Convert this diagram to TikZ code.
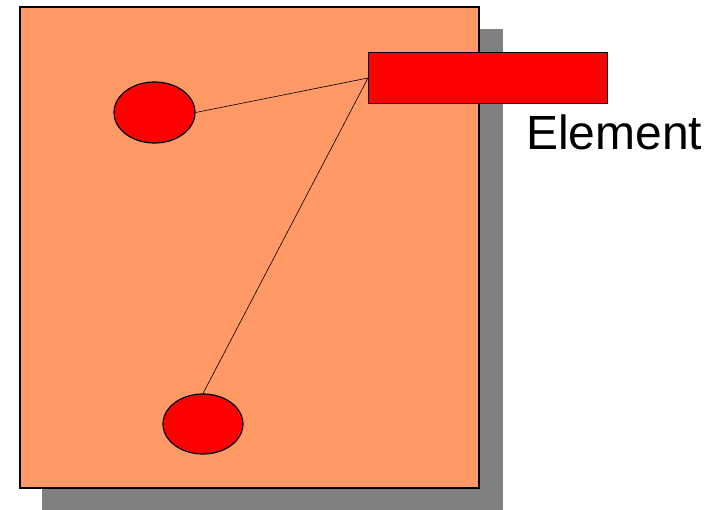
\documentclass[tikz,border=0pt]{standalone}
\usepackage{fontspec}
\setmainfont{Liberation Sans}
\usetikzlibrary{shapes.geometric}
\definecolor{panelfill}{RGB}{255,153,102}
\definecolor{shadowgray}{RGB}{128,128,128}
\begin{document}
\begin{tikzpicture}[x=1pt,y=-1pt]
\useasboundingbox (0,0) rectangle (711,510);
\fill[shadowgray] (42,29) rectangle (503,510);
\draw[fill=panelfill, line width=1.2pt] (20,7) rectangle (479,488);
\node[draw, fill=red, rectangle, line width=1pt, minimum width=239pt, minimum height=51pt, inner sep=0pt] (el) at (488,78) {};
\node[draw, fill=red, ellipse, line width=1.2pt, minimum width=81pt, minimum height=61pt, inner sep=0pt] (c1) at (154.5,112.5) {};
\node[draw, fill=red, ellipse, line width=1.2pt, minimum width=80pt, minimum height=60pt, inner sep=0pt] (c2) at (203,424) {};
\node[anchor=base west, inner sep=0pt, font=\fontsize{48}{58}\selectfont] (lbl) at (526,150) {Element};
\draw[line width=0.6pt] (c1.east) -- (el.west);
\draw[line width=0.6pt] (c2.north) -- (el.west);
\end{tikzpicture}
\end{document}
